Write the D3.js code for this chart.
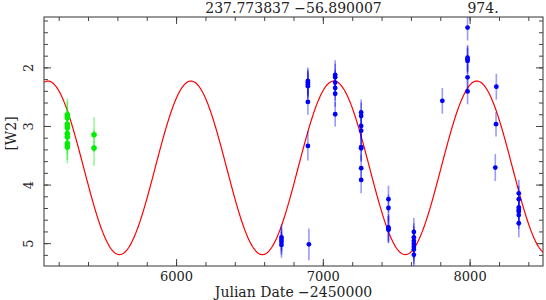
<!DOCTYPE html>
<html>
<head>
<meta charset="utf-8">
<script src="https://cdn.jsdelivr.net/npm/d3@7"></script>
<style>
  body { margin: 0; background: #fff; }
  text { font-family: "DejaVu Serif", serif; fill: #222; }
</style>
</head>
<body>
<svg id="chart" width="546" height="300"></svg>
<script>
(function () {

  var titleCoords = "237.773837  \u221256.890007";
  var titlePeriod = "974.";
  var xTitle = "Julian Date \u22122450000";
  var yTitle = "[W2]";

  // early epochs, drawn in green
  var greenJd  = [5259, 5259, 5259, 5259, 5259, 5259, 5259, 5259, 5441, 5441];
  var greenMag = [2.81, 2.86, 2.97, 3.03, 3.13, 3.19, 3.30, 3.36, 3.15, 3.375];
  var greenErr = [0.28, 0.28, 0.28, 0.28, 0.28, 0.28, 0.28, 0.28, 0.30, 0.31];

  // later epochs, drawn in blue
  var blueJd = [
    6718, 6718, 6718, 6718,
    6898, 6898, 6898, 6898, 6898, 6898, 6905,
    7084, 7084, 7084, 7084, 7084, 7084,
    7261, 7261, 7261, 7261, 7261, 7261, 7261, 7261,
    7447, 7447, 7447, 7447, 7447,
    7620, 7620, 7620, 7620, 7620, 7620, 7620,
    7814,
    7986, 7986, 7986, 7986, 7986, 7986,
    8175, 8182, 8180,
    8335, 8335, 8335, 8335, 8335, 8335, 8335
  ];
  var blueMag = [
    4.90, 4.94, 4.98, 5.03,
    2.23, 2.26, 2.29, 2.32, 2.59, 3.34, 5.02,
    2.13, 2.17, 2.26, 2.35, 2.45, 2.80,
    2.77, 2.83, 3.00, 3.08, 3.36, 3.38, 3.72, 3.92,
    4.25, 4.40, 4.73, 4.76, 4.77,
    4.81, 4.90, 4.96, 5.01, 5.06, 5.11, 5.20,
    2.57,
    1.32, 1.835, 1.86, 1.89, 2.17, 2.41,
    3.71, 2.33, 2.97,
    4.15, 4.25, 4.39, 4.43, 4.46, 4.52, 4.66
  ];
  var blueErr = [
    0.22, 0.22, 0.22, 0.22,
    0.23, 0.23, 0.23, 0.23, 0.22, 0.25, 0.27,
    0.25, 0.23, 0.22, 0.22, 0.22, 0.21,
    0.22, 0.23, 0.23, 0.23, 0.23, 0.23, 0.23, 0.23,
    0.23, 0.23, 0.23, 0.23, 0.23,
    0.24, 0.24, 0.25, 0.25, 0.25, 0.25, 0.25,
    0.22,
    0.22, 0.22, 0.22, 0.22, 0.22, 0.22,
    0.23, 0.22, 0.21,
    0.23, 0.23, 0.23, 0.23, 0.24, 0.24, 0.24
  ];

  // fitted sine: period, date of maximum light, mean and semi-amplitude
  var fitPeriod = 974;
  var fitPeak = 6101;
  var fitMean = 3.714;
  var fitAmp = 1.481;

  var xTicks = [6000, 7000, 8000];
  var yTicks = [2, 3, 4, 5];
  var xDomain = [5100, 8500];
  var yDomain = [1.14, 5.39];

  var LEFT = 44, RIGHT = 543, TOP = 17, BOTTOM = 266;

  var svg = d3.select("#chart");

  var x = d3.scaleLinear().domain(xDomain).range([LEFT, RIGHT]);
  var y = d3.scaleLinear().domain(yDomain).range([TOP, BOTTOM]);

  var xMinor = d3.range(5200, 8500, 200);
  var yMinor = d3.range(6, 27).map(function (i) { return i / 5; });

  // ticks point inward on all four sides
  function axis(maker, scale, values, size, transform, labels) {
    var a = maker(scale).tickValues(values).tickSize(size).tickSizeOuter(0)
      .tickFormat(labels ? d3.format("d") : "");
    var g = svg.append("g").attr("transform", transform).call(a);
    g.select(".domain").remove();
    g.selectAll(".tick line").attr("stroke", "#444").attr("stroke-width", 1);
    return g;
  }

  axis(d3.axisBottom, x, xMinor, -4, "translate(0," + BOTTOM + ")");
  axis(d3.axisTop, x, xMinor, -4, "translate(0," + TOP + ")");
  axis(d3.axisTop, x, xTicks, -7, "translate(0," + TOP + ")");
  var gx = axis(d3.axisBottom, x, xTicks, -7, "translate(0," + BOTTOM + ")", true);
  gx.selectAll(".tick text")
    .attr("y", 6)
    .style("font-size", "13px")
    .style("font-family", "DejaVu Serif")
    .attr("fill", "#222");

  axis(d3.axisLeft, y, yMinor, -4, "translate(" + LEFT + ",0)");
  axis(d3.axisRight, y, yMinor, -4, "translate(" + RIGHT + ",0)");
  axis(d3.axisRight, y, yTicks, -7, "translate(" + RIGHT + ",0)");
  var gy = axis(d3.axisLeft, y, yTicks, -7, "translate(" + LEFT + ",0)", true);
  gy.selectAll(".tick text")
    .attr("x", null)
    .attr("dy", null)
    .attr("text-anchor", "middle")
    .attr("transform", "translate(-11,0) rotate(-90)")
    .style("font-size", "13px")
    .style("font-family", "DejaVu Serif")
    .attr("fill", "#222");

  svg.append("rect")
    .attr("x", LEFT).attr("y", TOP)
    .attr("width", RIGHT - LEFT).attr("height", BOTTOM - TOP)
    .attr("fill", "none").attr("stroke", "#333").attr("stroke-width", 1);

  svg.append("clipPath").attr("id", "frame")
    .append("rect")
    .attr("x", LEFT).attr("y", TOP)
    .attr("width", RIGHT - LEFT).attr("height", BOTTOM - TOP);
  var plot = svg.append("g").attr("clip-path", "url(#frame)");

  var curve = d3.range(xDomain[0], xDomain[1] + 1, 4).map(function (t) {
    return [t, fitMean - fitAmp * Math.cos(2 * Math.PI * (t - fitPeak) / fitPeriod)];
  });
  plot.append("path")
    .datum(curve)
    .attr("fill", "none")
    .attr("stroke", "#ff0000")
    .attr("stroke-width", 1.2)
    .attr("d", d3.line()
      .x(function (d) { return x(d[0]); })
      .y(function (d) { return y(d[1]); }));

  function points(jd, mag, err, color, r) {
    var data = jd.map(function (t, i) { return { t: t, m: mag[i], e: err[i] }; });
    plot.append("g").selectAll("line")
      .data(data)
      .enter().append("line")
      .attr("x1", function (d) { return x(d.t); })
      .attr("x2", function (d) { return x(d.t); })
      .attr("y1", function (d) { return y(d.m - d.e); })
      .attr("y2", function (d) { return y(d.m + d.e); })
      .attr("stroke", color)
      .attr("stroke-opacity", 0.4)
      .attr("stroke-width", 1.6);
    plot.append("g").selectAll("circle")
      .data(data)
      .enter().append("circle")
      .attr("cx", function (d) { return x(d.t); })
      .attr("cy", function (d) { return y(d.m); })
      .attr("r", r)
      .attr("fill", color);
  }

  points(greenJd, greenMag, greenErr, "#00ee00", 2.8);
  points(blueJd, blueMag, blueErr, "#0000ff", 2.4);

  svg.append("text")
    .attr("x", (LEFT + RIGHT) / 2).attr("y", 13)
    .attr("text-anchor", "middle")
    .style("font-size", "14px")
    .text(titleCoords);
  svg.append("text")
    .attr("x", 483).attr("y", 13)
    .attr("text-anchor", "middle")
    .style("font-size", "14px")
    .text(titlePeriod);

  svg.append("text")
    .attr("x", (LEFT + RIGHT) / 2).attr("y", 297)
    .attr("text-anchor", "middle")
    .style("font-size", "14px")
    .text(xTitle);

  svg.append("text")
    .attr("transform", "translate(16," + ((TOP + BOTTOM) / 2 - 8) + ") rotate(-90)")
    .attr("text-anchor", "middle")
    .style("font-size", "14px")
    .text(yTitle);
})();
</script>
</body>
</html>
